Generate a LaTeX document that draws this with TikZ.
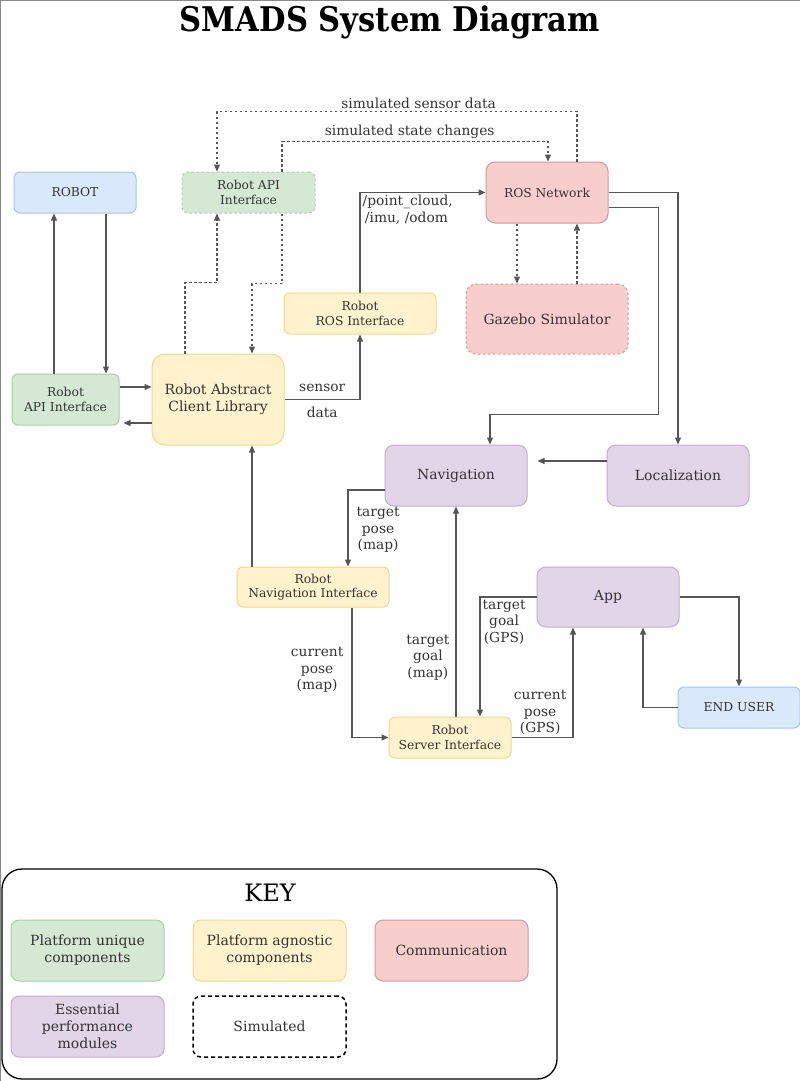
\documentclass[tikz,border=0pt]{standalone}
\usepackage{fontspec}
\setmainfont{DejaVu Serif}
\usetikzlibrary{arrows.meta}

\definecolor{txt}{HTML}{333333}
\definecolor{lnc}{HTML}{555555}
\definecolor{framec}{HTML}{8a8a8a}
\definecolor{hwfill}{HTML}{dae8fc}\definecolor{hwline}{HTML}{a9c4eb}
\definecolor{uniqfill}{HTML}{d5e8d4}\definecolor{uniqline}{HTML}{a8cfa2}
\definecolor{agnofill}{HTML}{fff2cc}\definecolor{agnoline}{HTML}{ecd98f}
\definecolor{commfill}{HTML}{f8cecc}\definecolor{commline}{HTML}{d09a98}
\definecolor{perffill}{HTML}{e1d5e7}\definecolor{perfline}{HTML}{c3abcf}

\newcommand{\smallfont}{\fontsize{12.3pt}{14.5pt}\selectfont}
\newcommand{\bigfont}{\fontsize{14pt}{17pt}\selectfont}
\newcommand{\lblfont}{\fontsize{13.8pt}{16.5pt}\selectfont}

\begin{document}
\begin{tikzpicture}[x=1pt, y=-1pt,
    box/.style={rectangle, rounded corners=6pt, draw, line width=1pt, align=center,
      text=txt, font=\smallfont, inner sep=2pt},
    hw/.style={box, fill=hwfill, draw=hwline},
    uniq/.style={box, fill=uniqfill, draw=uniqline},
    agno/.style={box, fill=agnofill, draw=agnoline},
    comm/.style={box, fill=commfill, draw=commline},
    perf/.style={box, fill=perffill, draw=perfline},
    simline/.style={dash pattern=on 2.5pt off 2.5pt},
    arr/.style={-{Triangle[length=7pt, width=6pt]}, draw=lnc, line width=1.3pt},
    lbl/.style={text=txt, font=\lblfont, align=center, inner sep=2pt},
    keyitem/.style={minimum width=153pt, minimum height=61pt, rounded corners=8pt,
      font=\fontsize{14pt}{17pt}\selectfont}]
  \useasboundingbox (0,0) rectangle (800,1081);
  \draw[framec, line width=1pt] (0.5,1081) -- (0.5,0.5) -- (800,0.5);

  % Title
  \node[font=\bfseries\fontsize{34pt}{38pt}\selectfont, xscale=0.9, transform shape] (title) at (390,22) {SMADS System Diagram};

  % Nodes
  \node[hw, minimum width=122pt, minimum height=41pt] at (75, 192.5) (robot) {ROBOT};
  \node[uniq, simline, minimum width=133pt, minimum height=41pt] at (248.5, 192.5) (apiT) {Robot API\\Interface};
  \node[comm, rounded corners=9pt, minimum width=122pt, minimum height=61pt] at (547, 192.5) (ros) {ROS Network};
  \node[agno, minimum width=152pt, minimum height=41pt] at (360, 313.5) (rosif) {Robot\\ROS Interface};
  \node[comm, simline, rounded corners=10pt, font=\bigfont, minimum width=162pt, minimum height=70pt] at (547, 319) (gazebo) {Gazebo Simulator};
  \node[uniq, minimum width=107pt, minimum height=51pt] at (65.5, 399.5) (apiL) {Robot\\API Interface};
  \node[agno, rounded corners=13pt, font=\bigfont, minimum width=132pt, minimum height=91pt] at (218, 399.5) (racl) {Robot Abstract\\Client Library};
  \node[perf, rounded corners=9pt, font=\bigfont, minimum width=142pt, minimum height=61pt] at (456, 475.5) (nav) {Navigation};
  \node[perf, rounded corners=9pt, font=\bigfont, minimum width=142pt, minimum height=61pt] at (678, 475.5) (loc) {Localization};
  \node[agno, minimum width=152pt, minimum height=40pt] at (313, 587) (navif) {Robot\\Navigation Interface};
  \node[perf, rounded corners=9pt, font=\bigfont, minimum width=142pt, minimum height=60pt] at (608, 597) (app) {App};
  \node[hw, minimum width=122pt, minimum height=41pt] at (739, 707.5) (enduser) {END USER};
  \node[agno, minimum width=122pt, minimum height=41pt] at (450, 737.5) (srvif) {Robot\\Server Interface};

  % Robot side
  \draw[arr] ([xshift=-11.5]apiL.north) -- ([xshift=-21]robot.south);
  \draw[arr] ([xshift=31]robot.south) -- ([xshift=40.5]apiL.north);
  \draw[arr] ([yshift=12.5]apiL.east) -- ([yshift=12.5]racl.west);
  \draw[arr, shorten >=4pt] ([yshift=-23.5]racl.west) -- ([yshift=-23.5]apiL.east);

  % Simulation
  \draw[arr, simline] ([xshift=-33]racl.north) -- ++(0,-71) -| ([xshift=-31.5]apiT.south);
  \draw[arr, simline] ([xshift=33.5]apiT.south) -- ++(0,70) -| ([xshift=34]racl.north);
  \draw[arr, simline] ([xshift=30]ros.north) -- ++(0,-50) -| node[lbl, above, pos=0.22] {simulated sensor data} ([xshift=-31.5]apiT.north);
  \draw[arr, simline] ([xshift=33.5]apiT.north) -- ++(0,-30) -| node[lbl, above, pos=0.24] {simulated state changes} ([xshift=1]ros.north);
  \draw[arr, simline] ([xshift=-30]ros.south) -- ([xshift=-30]gazebo.north);
  \draw[arr, simline] ([xshift=30]gazebo.north) -- ([xshift=30]ros.south);

  % ROS
  \draw[arr] (racl.east) -| node[lbl, above=5pt, pos=0.25] {sensor} node[lbl, below=5pt, pos=0.25] {data} (rosif.south);
  \draw[arr] (rosif.north) |- node[lbl, below right, align=left, pos=0.5] {/point\_cloud,\\\,/imu, /odom} (ros.west);
  \draw[arr] (ros.east) -| (loc.north);
  \draw[arr] ([yshift=-15]ros.east) -- ++(50,0) -- ++(0,207) -| ([xshift=34]nav.north);
  \draw[arr, shorten >=10pt] ([yshift=14.5]loc.west) -- ([yshift=14.5]nav.east);

  % Navigation and server
  \draw[arr] ([yshift=-14.5]nav.west) -| node[lbl, right=6pt, pos=0.76] {target\\pose\\(map)} ([xshift=35]navif.north);
  \draw[arr] ([xshift=-61]navif.north) -- ([xshift=34]racl.south);
  \draw[arr] ([xshift=39]navif.south) |- node[lbl, left=6pt, pos=0.24] {current\\pose\\(map)} (srvif.west);
  \draw[arr] ([xshift=6]srvif.north) -- node[lbl, left=4pt, pos=0.28] {target\\goal\\(map)} (nav.south);
  \draw[arr] (app.west) -| node[lbl, below right, pos=0.5] {target\\goal\\(GPS)} ([xshift=30]srvif.north);
  \draw[arr] (srvif.east) -| node[lbl, above left, pos=0.5, xshift=-4pt] {current\\pose\\(GPS)} ([xshift=-35]app.south);
  \draw[arr] (app.east) -| (enduser.north);
  \draw[arr] (enduser.west) -| ([xshift=35]app.south);

  % Key
  \draw[black, line width=1.3pt, rounded corners=20pt] (2,869) rectangle (557,1079);
  \node[text=black, font=\fontsize{24pt}{28pt}\selectfont] at (270, 893) (keytitle) {KEY};
  \node[uniq, keyitem] at (87.5, 950.5) (kuniq) {Platform unique\\components};
  \node[agno, keyitem] at (269.5, 950.5) (kagno) {Platform agnostic\\components};
  \node[comm, keyitem] at (451.5, 950.5) (kcomm) {Communication};
  \node[perf, keyitem] at (87.5, 1026.5) (kperf) {Essential\\performance\\modules};
  \node[box, keyitem, draw=black, line width=1.5pt, dash pattern=on 4pt off 3pt] at (269.5, 1026.5) (ksim) {Simulated};
\end{tikzpicture}
\end{document}
